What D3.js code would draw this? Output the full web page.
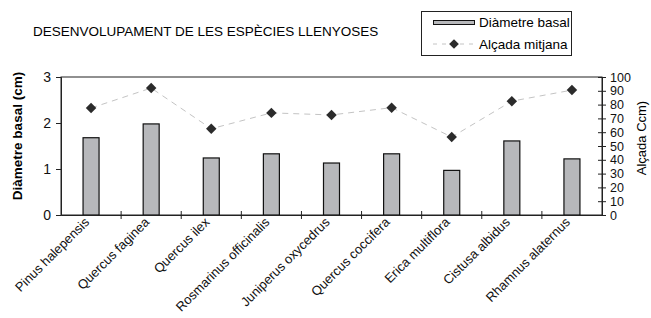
<!DOCTYPE html>
<html>
<head>
<meta charset="utf-8">
<script src="https://cdn.jsdelivr.net/npm/d3@7"></script>
<style>
  body { margin: 0; background: #fff; }
  svg { font-family: "Liberation Sans", Arial, sans-serif; }
</style>
</head>
<body>
<div class="content"></div>
<script>
const w = 651;
const h = 318;
const m = { top: 77, right: 49, bottom: 103, left: 61 };

const species = ['Pinus halepensis', 'Quercus faginea', 'Quercus ilex', 'Rosmarinus officinalis',
  'Juniperus oxycedrus', 'Quercus coccifera', 'Erica multiflora', 'Cistusa albidus', 'Rhamnus alaternus'];
const diametre = [1.68, 1.98, 1.24, 1.33, 1.13, 1.33, 0.97, 1.61, 1.22];
const alcada = [77.5, 92, 62.5, 74, 72.5, 77.8, 56.5, 82.5, 90.5];
const leftTicks = [0, 1, 2, 3];
const rightTicks = d3.range(0, 101, 10);

const barColor = '#b7b8bb';
const lineColor = '#c4c4c4';
const dotColor = '#2b2b2b';

const svg = d3.select('.content').append('svg')
  .attr('width', w)
  .attr('height', h);

svg.append('text')
  .attr('x', 33)
  .attr('y', 36)
  .style('font-size', '13.5px')
  .text('DESENVOLUPAMENT DE LES ESPÈCIES LLENYOSES');

const xScale = d3.scaleBand()
  .domain(species)
  .range([m.left, w - m.right]);

const yLeft = d3.scaleLinear()
  .domain([0, 3])
  .range([h - m.bottom, m.top]);

const yRight = d3.scaleLinear()
  .domain([0, 100])
  .range([h - m.bottom, m.top]);

// frame
svg.append('rect')
  .attr('x', m.left)
  .attr('y', m.top)
  .attr('width', w - m.left - m.right)
  .attr('height', h - m.top - m.bottom)
  .attr('fill', 'none')
  .attr('stroke', '#222');

const barW = 16;
svg.selectAll('.bar')
  .data(species)
  .enter()
  .append('rect')
  .attr('class', 'bar')
  .attr('x', (d) => xScale(d) + xScale.bandwidth() / 2 - barW / 2)
  .attr('y', (d, i) => yLeft(diametre[i]))
  .attr('width', barW)
  .attr('height', (d, i) => yLeft(0) - yLeft(diametre[i]))
  .attr('fill', barColor)
  .attr('stroke', '#111')
  .attr('stroke-width', 1.2);

const line = d3.line()
  .x((d, i) => xScale(species[i]) + xScale.bandwidth() / 2)
  .y((d) => yRight(d));

svg.append('path')
  .datum(alcada)
  .attr('d', line)
  .attr('fill', 'none')
  .attr('stroke', lineColor)
  .attr('stroke-width', 1)
  .attr('stroke-dasharray', '6,5');

svg.selectAll('.dot')
  .data(alcada)
  .enter()
  .append('path')
  .attr('class', 'dot')
  .attr('d', d3.symbol().type(d3.symbolDiamond2).size(70))
  .attr('transform', (d, i) => `translate(${xScale(species[i]) + xScale.bandwidth() / 2},${yRight(d)})`)
  .attr('fill', dotColor);

// axes
const leftAxis = svg.append('g')
  .attr('transform', `translate(${m.left},0)`)
  .call(d3.axisLeft(yLeft).tickValues(leftTicks).tickSize(5).tickPadding(5).tickFormat(d3.format('d')));

const rightAxis = svg.append('g')
  .attr('transform', `translate(${w - m.right},0)`)
  .call(d3.axisRight(yRight).tickValues(rightTicks).tickSize(4).tickPadding(4));
rightAxis.selectAll('.tick line').attr('x1', -4);

const xAxis = svg.append('g')
  .attr('transform', `translate(0,${h - m.bottom})`)
  .call(d3.axisBottom(xScale).tickSize(0).tickPadding(0));
xAxis.selectAll('.tick text')
  .attr('text-anchor', 'end')
  .attr('dy', 0)
  .attr('transform', 'translate(-1,8) rotate(-45)');

// category separators
svg.selectAll('.sep')
  .data(species.slice(1))
  .enter()
  .append('line')
  .attr('class', 'sep')
  .attr('x1', (d) => xScale(d))
  .attr('x2', (d) => xScale(d))
  .attr('y1', h - m.bottom - 4)
  .attr('y2', h - m.bottom + 4)
  .attr('stroke', '#222');

[leftAxis, rightAxis, xAxis].forEach((g) => {
  g.select('.domain').attr('stroke', '#222');
  g.selectAll('.tick line').attr('stroke', '#222');
  g.selectAll('.tick text')
    .attr('fill', '#111')
    .style('font-family', '"Liberation Sans", Arial, sans-serif');
});
xAxis.selectAll('.tick text').style('font-size', '13px');
leftAxis.selectAll('.tick text').style('font-size', '14px');
rightAxis.selectAll('.tick text').style('font-size', '12.5px');

svg.append('text')
  .attr('transform', `translate(22,${(m.top + h - m.bottom) / 2 - 10}) rotate(-90)`)
  .attr('text-anchor', 'middle')
  .style('font-size', '13.5px')
  .style('font-weight', 'bold')
  .text('Diàmetre basal (cm)');

svg.append('text')
  .attr('transform', `translate(646,${(m.top + h - m.bottom) / 2 - 8}) rotate(-90)`)
  .attr('text-anchor', 'middle')
  .style('font-size', '13px')
  .text('Alçada Ccm)');

// legend
const legend = svg.append('g')
  .attr('id', 'legend');

legend.append('rect')
  .attr('x', 421.5)
  .attr('y', 11.5)
  .attr('width', 150)
  .attr('height', 44)
  .attr('fill', '#fff')
  .attr('stroke', '#222');

legend.append('rect')
  .attr('x', 433.5)
  .attr('y', 20.5)
  .attr('width', 41)
  .attr('height', 4)
  .attr('fill', barColor)
  .attr('stroke', '#111');

legend.append('text')
  .attr('x', 479)
  .attr('y', 27)
  .style('font-size', '13.5px')
  .text('Diàmetre basal');

legend.append('line')
  .attr('x1', 433)
  .attr('x2', 475)
  .attr('y1', 44)
  .attr('y2', 44)
  .attr('stroke', lineColor)
  .attr('stroke-dasharray', '4,5');

legend.append('path')
  .attr('d', d3.symbol().type(d3.symbolDiamond2).size(60))
  .attr('transform', 'translate(454,44)')
  .attr('fill', dotColor);

legend.append('text')
  .attr('x', 479)
  .attr('y', 49)
  .style('font-size', '13.5px')
  .text('Alçada mitjana');
</script>
</body>
</html>
